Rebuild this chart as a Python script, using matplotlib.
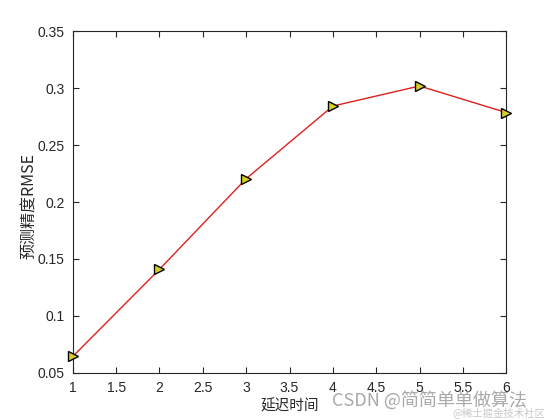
import matplotlib
matplotlib.use('Agg')
import matplotlib.pyplot as plt

# Data
delay = [1, 2, 3, 4, 5, 6]
rmse = [0.0645, 0.141, 0.2205, 0.2842, 0.3018, 0.2785]
xticks = [1, 1.5, 2, 2.5, 3, 3.5, 4, 4.5, 5, 5.5, 6]
yticks = [0.05, 0.1, 0.15, 0.2, 0.25, 0.3, 0.35]

plt.rcParams['font.family'] = ['Liberation Sans', 'Noto Sans CJK SC', 'DejaVu Sans']

fig = plt.figure(figsize=(5.6, 4.2), dpi=100)
ax = fig.add_axes([0.13, 0.112, 0.774, 0.814])

ax.plot(delay, rmse, color='#e0201b', linewidth=1.0,
        marker='>', markersize=7, markerfacecolor='#d8d020',
        markeredgecolor='black', markeredgewidth=1.0, clip_on=False, zorder=3)

ax.set_xlim(1, 6)
ax.set_ylim(0.05, 0.35)
ax.set_xticks(xticks)
ax.set_xticklabels(['1', '1.5', '2', '2.5', '3', '3.5', '4', '4.5', '5', '5.5', '6'])
ax.set_yticks(yticks)
ax.set_yticklabels(['0.05', '0.1', '0.15', '0.2', '0.25', '0.3', '0.35'])
ax.tick_params(direction='in', top=True, right=True, length=4, width=0.8,
               labelsize=10, colors='#262626', pad=6)
for s in ax.spines.values():
    s.set_linewidth(0.8)
    s.set_color('#262626')

cjk = ['Noto Sans CJK SC', 'DejaVu Sans']
ax.set_xlabel('延迟时间', fontsize=10.5, family=cjk, color='#262626', labelpad=3)
ax.set_ylabel('预测精度RMSE', fontsize=11.5, family=cjk, color='#262626')
ax.yaxis.set_label_coords(-0.08, 0.49)

# watermark
fig.text(0.593, 0.033, 'CSDN @简简单单做算法', fontsize=13, color='#a0a0a0',
         family=['Noto Sans CJK SC', 'DejaVu Sans'], alpha=0.9)
fig.text(0.808, 0.01, '@稀土掘金技术社区', fontsize=7.5, color='#c8c8c8',
         family=['Noto Sans CJK SC', 'DejaVu Sans'])

fig.savefig('out.png', dpi=100, facecolor='white')
